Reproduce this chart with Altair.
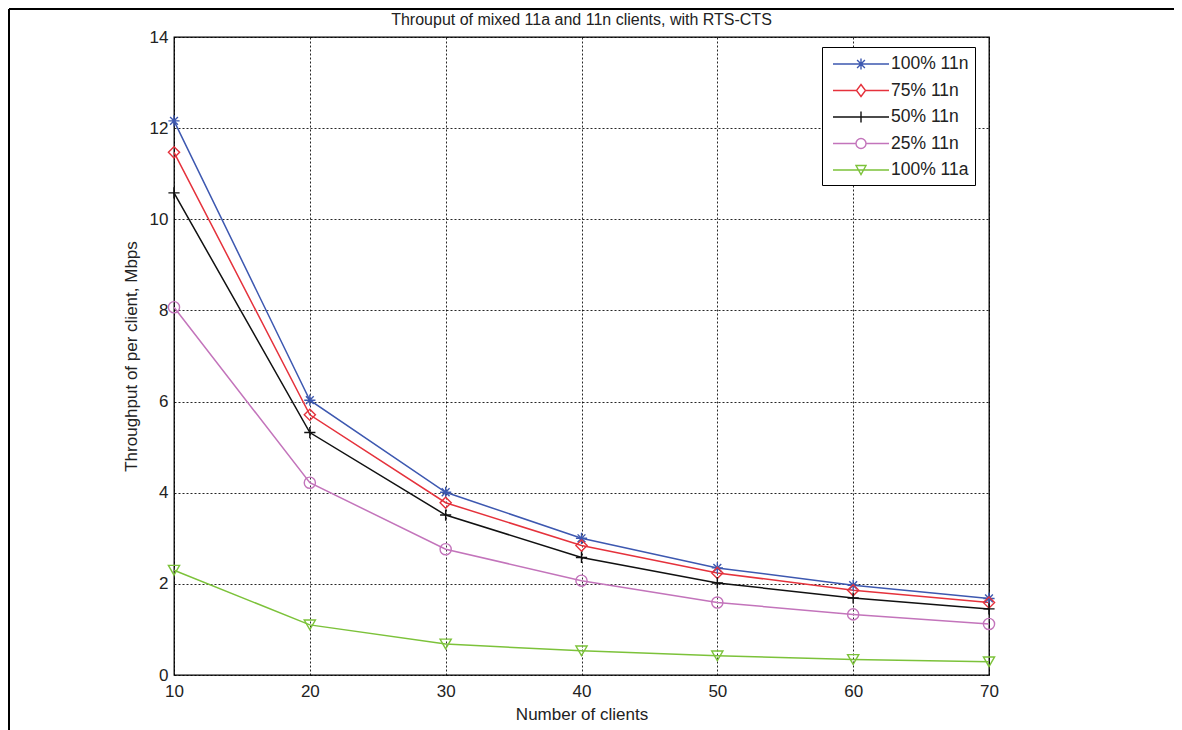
import altair as alt
import pandas as pd

clients = [10, 20, 30, 40, 50, 60, 70]
series_names = ["100% 11n", "75% 11n", "50% 11n", "25% 11n", "100% 11a"]
n100 = [12.16, 6.03, 4.01, 3.00, 2.35, 1.97, 1.68]
n75 = [11.47, 5.71, 3.78, 2.84, 2.24, 1.86, 1.59]
n50 = [10.58, 5.32, 3.51, 2.58, 2.02, 1.69, 1.45]
n25 = [8.07, 4.22, 2.76, 2.07, 1.59, 1.33, 1.12]
a100 = [2.30, 1.10, 0.68, 0.53, 0.42, 0.34, 0.29]
x_ticks = [10, 20, 30, 40, 50, 60, 70]
y_ticks = [0, 2, 4, 6, 8, 10, 12, 14]

colors = ["#3d58b0", "#e5323c", "#111111", "#c374bb", "#7cc23a"]
shapes = [
    "M-1,0H1M0,-1V1M-0.7,-0.7L0.7,0.7M-0.7,0.7L0.7,-0.7",
    "diamond",
    "M-1,0H1M0,-1V1",
    "circle",
    "triangle-down",
]
legend_paths = [
    "M0,0H5.6M2.25,0H3.35M2.8,-0.55V0.55M2.41,-0.39L3.19,0.39M2.41,0.39L3.19,-0.39",
    "M0,0H2.35M3.25,0H5.6M2.8,-0.6L3.25,0L2.8,0.6L2.35,0Z",
    "M0,0H5.6M2.8,-0.55V0.55",
    "M0,0H2.3M3.3,0H5.6M3.3,0A0.5,0.5,0,1,1,2.3,0A0.5,0.5,0,1,1,3.3,0",
    "M0,0H5.6M2.3,-0.45L3.3,-0.45L2.8,0.45Z",
]

rows = []
for name, vals in zip(series_names, [n100, n75, n50, n25, a100]):
    for c, v in zip(clients, vals):
        rows.append({"clients": c, "throughput": v, "series": name})
df = pd.DataFrame(rows)

legend = alt.Legend(
    title=None,
    orient="none",
    legendX=648,
    legendY=10,
    strokeColor="black",
    fillColor="white",
    padding=6,
    labelFontSize=17.5,
    labelColor="#222",
    labelOffset=47,
    symbolOffset=-6,
    symbolSize=400,
    symbolStrokeWidth=1.4,
    rowPadding=6.5,
)

xs = alt.X(
    "clients:Q",
    scale=alt.Scale(domain=[10, 70], nice=False),
    axis=alt.Axis(values=x_ticks, title="Number of clients", format="d", labelFlush=False),
)
ys = alt.Y(
    "throughput:Q",
    scale=alt.Scale(domain=[0, 14], nice=False),
    axis=alt.Axis(values=y_ticks, title="Throughput of per client, Mbps", format="d"),
)
color_scale = alt.Scale(domain=series_names, range=colors)
col = alt.Color("series:N", scale=color_scale, legend=legend)

lines = alt.Chart(df).mark_line(strokeWidth=1.5).encode(
    x=xs, y=ys, color=col, detail="series:N"
)

point_layers = []
for name, shp in zip(series_names, shapes):
    point_layers.append(
        alt.Chart(df)
        .transform_filter(alt.datum.series == name)
        .mark_point(filled=False, size=125, strokeWidth=1.4, opacity=1, shape=shp)
        .encode(x=xs, y=ys, color=col)
    )

# legend-only layer: its marks sit outside the plot and are clipped away
legend_layer = (
    alt.Chart(pd.DataFrame({"series": series_names}))
    .mark_point(filled=False, strokeWidth=1.4, opacity=1, clip=True)
    .encode(
        x=alt.value(-60),
        y=alt.value(-60),
        color=col,
        shape=alt.Shape("series:N", scale=alt.Scale(domain=series_names, range=legend_paths), legend=legend),
    )
)

frame = alt.Chart(alt.Data(values=[{}])).mark_rule(color="black", strokeWidth=2)
top_border = frame.encode(x=alt.value(-165), x2=alt.value(1000), y=alt.value(-28))
left_border = frame.encode(x=alt.value(-165), y=alt.value(-28), y2=alt.value(693))

chart = (
    alt.layer(lines, *point_layers, legend_layer, top_border, left_border)
    .properties(
        width=815,
        height=638,
        autosize=alt.AutoSizeParams(type="none"),
        padding={"left": 166, "top": 29, "right": 185, "bottom": 55},
        title=alt.Title(
            "Throuput of mixed 11a and 11n clients, with RTS-CTS",
            fontSize=16,
            fontWeight="normal",
            offset=-20,
            frame="group",
            color="#222",
        ),
    )
    .configure(font="Liberation Sans")
    .configure_view(stroke="black", strokeWidth=1.3)
    .configure_axis(
        grid=True,
        gridColor="#000",
        gridDash=[2, 2],
        gridOpacity=0.85,
        gridWidth=1,
        domain=False,
        ticks=False,
        labelFontSize=17,
        labelColor="#222",
        titleFontSize=17,
        titleFontWeight="normal",
        titleColor="#222",
    )
    .configure_axisX(labelPadding=8, titlePadding=7)
    .configure_axisY(labelPadding=6, titlePadding=9)
)

chart.save("out.html", embed_options={"renderer": "svg", "actions": False})
